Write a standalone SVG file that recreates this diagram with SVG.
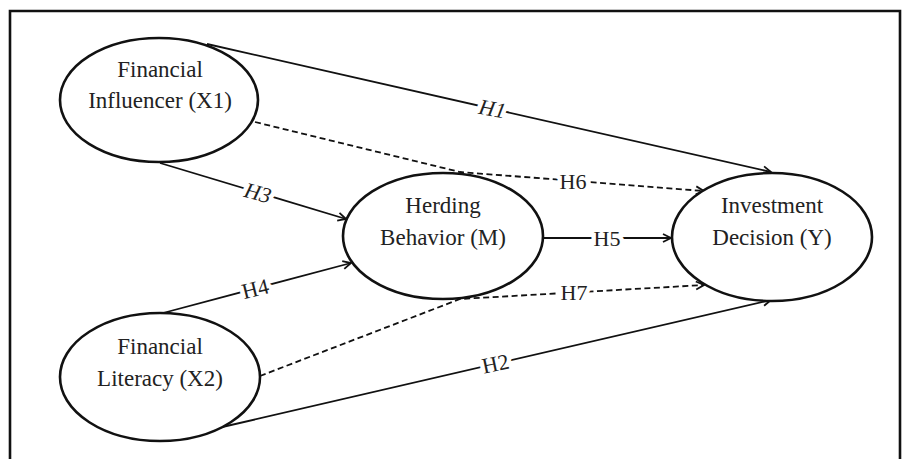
<svg xmlns="http://www.w3.org/2000/svg" width="911" height="459" viewBox="0 0 911 459">
<style>
.node{fill:#fff;stroke:#111;stroke-width:2.6}
.nt{font-family:"Liberation Serif","Times New Roman",serif;font-size:23px;fill:#222;text-anchor:middle}
.e{fill:none;stroke:#111;stroke-width:1.8}
.d{stroke-dasharray:6,3.5}
.lb{font-family:"Liberation Serif","Times New Roman",serif;font-size:22px;fill:#222;text-anchor:middle;stroke:#fff;stroke-width:9;paint-order:stroke;stroke-linejoin:round}
.it{font-style:italic}
</style>
<defs>
<marker id="arr" markerUnits="userSpaceOnUse" markerWidth="12" markerHeight="12" refX="9" refY="5" orient="auto">
<path d="M1,1 L9,5 L1,9" fill="none" stroke="#111" stroke-width="1.8"/>
</marker>
</defs>
<rect width="911" height="459" fill="#fff"/>
<path d="M10,470 L10,11 L900,11 L900,470" fill="none" stroke="#111" stroke-width="2.6"/>
<g id="connectors">
<path class="e" d="M207,44 L771,172" marker-end="url(#arr)"/>
<path class="e d" d="M255,122 L460,172 L704,191" marker-end="url(#arr)"/>
<path class="e" d="M160,163 L346,219" marker-end="url(#arr)"/>
<path class="e" d="M163,313 L351,263" marker-end="url(#arr)"/>
<path class="e" d="M543,238 L671,238" marker-end="url(#arr)"/>
<path class="e d" d="M260,376 L460,299 L704,285" marker-end="url(#arr)"/>
<path class="e" d="M218,428 L771,300" marker-end="url(#arr)"/>
<text class="lb it" transform="translate(491,116) rotate(11)">H1</text>
<text class="lb" x="573" y="189">H6</text>
<text class="lb it" transform="translate(256,200) rotate(15)">H3</text>
<text class="lb" transform="translate(257,296) rotate(-14)">H4</text>
<text class="lb" x="607" y="246">H5</text>
<text class="lb" x="574" y="300">H7</text>
<text class="lb" transform="translate(497,371) rotate(-12)">H2</text>
</g>
<g id="x1">
<ellipse class="node" cx="159" cy="100" rx="99" ry="62"/>
<text class="nt" x="160" y="77">Financial</text>
<text class="nt" x="160" y="108">Influencer (X1)</text>
</g>
<g id="x2">
<ellipse class="node" cx="160" cy="377" rx="100" ry="64"/>
<text class="nt" x="160" y="354">Financial</text>
<text class="nt" x="160" y="386">Literacy (X2)</text>
</g>
<g id="m">
<ellipse class="node" cx="443" cy="236" rx="100" ry="63"/>
<text class="nt" x="443" y="213">Herding</text>
<text class="nt" x="443" y="245">Behavior (M)</text>
</g>
<g id="y">
<ellipse class="node" cx="772" cy="237" rx="100" ry="64"/>
<text class="nt" x="772" y="213">Investment</text>
<text class="nt" x="772" y="245">Decision (Y)</text>
</g>
</svg>
